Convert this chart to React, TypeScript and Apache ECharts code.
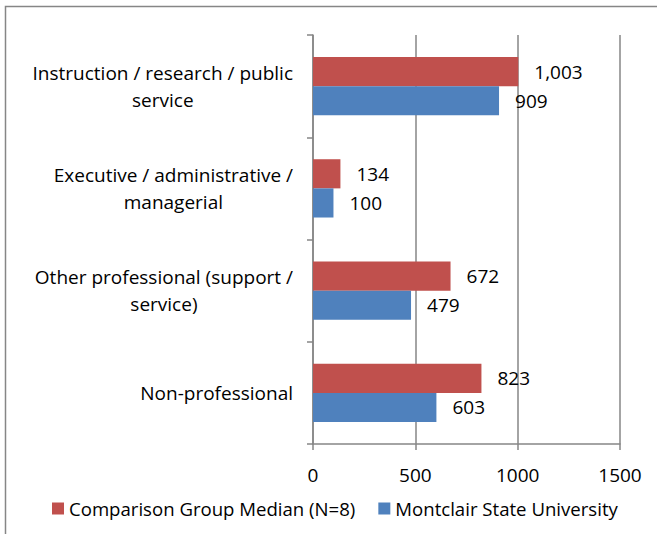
import React, { useEffect, useRef } from "react";
import * as echarts from "echarts";

const categories = [
  "Instruction / research / public\nservice",
  "Executive / administrative /\nmanagerial",
  "Other professional (support /\nservice)",
  "Non-professional",
];
const comparisonName = "Comparison Group Median (N=8)";
const montclairName = "Montclair State University";
const comparisonValues = [1003, 134, 672, 823];
const montclairValues = [909, 100, 479, 603];
const xTicks = { min: 0, max: 1500, interval: 500 };

const FONT = "Open Sans";
const GRAY = "#868686";
const FS = 19;

export default function App() {
  const ref = useRef<HTMLDivElement>(null);
  useEffect(() => {
    document.body.style.margin = "0";
    const chart = echarts.init(ref.current!, null, { renderer: "svg" });
    const labelFmt = (p: any) => Number(p.value).toLocaleString("en-US");
    chart.setOption({
      animation: false,
      textStyle: { fontFamily: FONT },
      graphic: [
        {
          type: "rect",
          shape: { x: 5.5, y: 6.5, width: 700, height: 600 },
          style: { fill: "none", stroke: GRAY, lineWidth: 1.5 },
          silent: true,
        },
      ],
      grid: { left: 313, right: 37, top: 35, bottom: 90, containLabel: false },
      legend: {
        data: [comparisonName, montclairName],
        left: 47,
        top: 494,
        itemWidth: 12,
        itemHeight: 12,
        itemGap: 23,
        icon: "rect",
        textStyle: { fontFamily: FONT, fontSize: 18.6, color: "#000" },
      },
      xAxis: {
        type: "value",
        min: xTicks.min,
        max: xTicks.max,
        interval: xTicks.interval,
        axisLine: { show: true, lineStyle: { color: GRAY, width: 1.5 } },
        axisTick: { show: true, length: 6, lineStyle: { color: GRAY, width: 1.5 } },
        splitLine: { show: true, lineStyle: { color: GRAY, width: 1.5 } },
        axisLabel: {
          fontFamily: FONT,
          fontSize: FS,
          color: "#000",
          margin: 21,
          formatter: (v: number) => String(v),
        },
      },
      yAxis: {
        type: "category",
        data: categories,
        inverse: true,
        axisLine: { show: true, lineStyle: { color: GRAY, width: 1.5 } },
        axisTick: { show: true, length: 6, lineStyle: { color: GRAY, width: 1.5 } },
        axisLabel: {
          margin: 20,
          color: "#000",
          fontFamily: FONT,
          fontSize: FS,
          formatter: (v: string) =>
            v
              .split("\n")
              .map((l) => `{c|${l}}`)
              .join("\n"),
          rich: {
            c: {
              align: "center",
              fontFamily: FONT,
              fontSize: FS,
              lineHeight: 27,
              color: "#000",
            },
          },
        },
      },
      series: [
        {
          name: comparisonName,
          type: "bar",
          data: comparisonValues,
          itemStyle: { color: "#C0504D" },
          barGap: "0%",
          barCategoryGap: "43%",
          label: {
            show: true,
            position: "right",
            distance: 16,
            fontFamily: FONT,
            fontSize: FS,
            color: "#000",
            formatter: labelFmt,
          },
        },
        {
          name: montclairName,
          type: "bar",
          data: montclairValues,
          itemStyle: { color: "#4F81BD" },
          barGap: "0%",
          barCategoryGap: "43%",
          label: {
            show: true,
            position: "right",
            distance: 16,
            fontFamily: FONT,
            fontSize: FS,
            color: "#000",
            formatter: labelFmt,
          },
        },
      ],
    });
    return () => chart.dispose();
  }, []);
  return <div ref={ref} style={{ width: 657, height: 534 }} />;
}
